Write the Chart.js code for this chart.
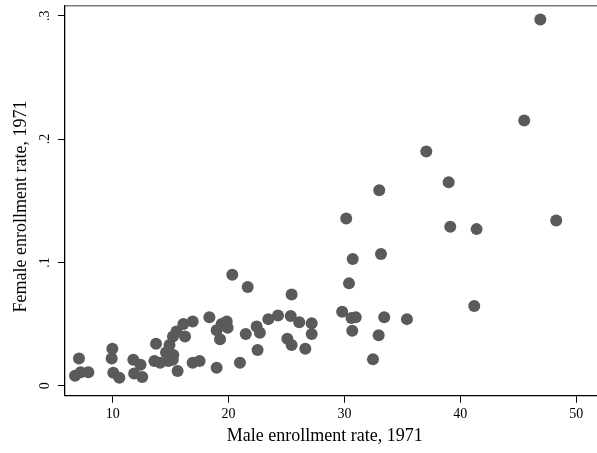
<!DOCTYPE html>
<html>
<head>
<meta charset="utf-8">
<script src="https://cdn.jsdelivr.net/npm/chart.js@4.4.1/dist/chart.umd.min.js"></script>
<style>
  html, body { margin: 0; padding: 0; background: #fff; }
  #wrap { width: 597px; height: 453px; }
</style>
</head>
<body>
<div id="wrap"><canvas id="chart" width="597" height="453"></canvas></div>
<script>
// Male and female enrollment rates, 1971 (one point per country)
const maleRate = [
  6.75, 7.09, 7.24, 7.9, 9.97, 9.91, 10.05, 10.57, 11.78, 12.4,
  11.85, 12.55, 13.74, 13.6, 14.1, 14.6, 14.9, 15.23, 14.8, 15.18,
  15.2, 15.5, 16.1, 16.9, 16.24, 15.6, 16.9, 17.5, 18.34, 18.97,
  19.4, 19.84, 19.92, 19.26, 18.97, 20.32, 21.65, 21.48, 20.98, 22.42,
  22.7, 22.5, 23.43, 24.26, 25.36, 25.44, 26.1, 25.07, 25.44, 26.62,
  27.17, 27.17, 29.8, 30.39, 30.71, 33.15, 30.6, 30.97, 30.67, 33.43,
  32.95, 32.46, 33.0, 30.15, 37.06, 38.99, 39.13, 41.4, 48.27, 45.51,
  46.9, 35.39, 41.2
];
const femaleRate = [
  0.008, 0.022, 0.011, 0.011, 0.030, 0.022, 0.0105, 0.0065, 0.021, 0.017,
  0.010, 0.007, 0.034, 0.020, 0.0187, 0.027, 0.033, 0.025, 0.020, 0.021,
  0.040, 0.044, 0.050, 0.052, 0.040, 0.012, 0.0187, 0.020, 0.0555, 0.045,
  0.050, 0.052, 0.047, 0.0376, 0.0146, 0.090, 0.080, 0.042, 0.0187, 0.048,
  0.043, 0.029, 0.054, 0.057, 0.0565, 0.074, 0.0514, 0.038, 0.033, 0.030,
  0.0506, 0.042, 0.060, 0.083, 0.1028, 0.1068, 0.055, 0.0555, 0.0446, 0.0555,
  0.041, 0.0214, 0.1585, 0.1357, 0.190, 0.165, 0.129, 0.127, 0.134, 0.215,
  0.297, 0.054, 0.0646
];
const xTicks = [10, 20, 30, 40, 50];
const yTicks = [0, 0.1, 0.2, 0.3];
const yTickLabels = ["0", ".1", ".2", ".3"];
const xTitle = "Male enrollment rate, 1971";
const yTitle = "Female enrollment rate, 1971";

const serif = "'Liberation Serif', 'Times New Roman', serif";

const points = maleRate.map((x, i) => ({ x: x, y: femaleRate[i] }));

// draws the rotated y labels, axis titles and the top frame line
const decor = {
  id: "decor",
  afterDraw(chart) {
    const ctx = chart.ctx;
    const area = chart.chartArea;
    const yScale = chart.scales.y;
    ctx.save();
    ctx.strokeStyle = "#7a7a7a";
    ctx.lineWidth = 1.5;
    ctx.beginPath();
    ctx.moveTo(area.left, area.top);
    ctx.lineTo(area.right, area.top);
    ctx.stroke();

    ctx.fillStyle = "#000";
    ctx.textAlign = "center";
    ctx.textBaseline = "middle";
    ctx.font = "14px " + serif;
    yTicks.forEach((v, i) => {
      const py = yScale.getPixelForValue(v);
      ctx.save();
      ctx.translate(45, py);
      ctx.rotate(-Math.PI / 2);
      ctx.fillText(yTickLabels[i], 0, 0);
      ctx.restore();
    });

    ctx.font = "18px " + serif;
    ctx.fillText(xTitle, 324.7, 436);
    ctx.save();
    ctx.translate(21, 206.5);
    ctx.rotate(-Math.PI / 2);
    ctx.fillText(yTitle, 0, 0);
    ctx.restore();
    ctx.restore();
  }
};

new Chart(document.getElementById("chart"), {
  type: "scatter",
  data: {
    datasets: [
      {
        data: points,
        backgroundColor: "#5a5a5a",
        borderWidth: 0,
        pointRadius: 6,
        pointHoverRadius: 6,
        clip: false
      }
    ]
  },
  options: {
    responsive: false,
    animation: false,
    events: [],
    layout: { autoPadding: false, padding: { top: 5.7, right: 0, bottom: 0, left: 0 } },
    plugins: {
      legend: { display: false },
      tooltip: { enabled: false }
    },
    scales: {
      x: {
        type: "linear",
        min: 5.884,
        max: 51.79,
        afterBuildTicks: (scale) => {
          scale.ticks = xTicks.map((v) => ({ value: v }));
        },
        afterFit: (scale) => {
          scale.height = 57.3;
          scale.paddingLeft = 0;
          scale.paddingRight = 0;
        },
        border: { color: "#000", width: 1.3 },
        grid: { drawOnChartArea: false, drawTicks: true, tickLength: 7, color: "#000", lineWidth: 1 },
        ticks: {
          color: "#000",
          padding: 3,
          maxRotation: 0,
          font: { family: serif, size: 14 }
        }
      },
      y: {
        type: "linear",
        min: -0.0081,
        max: 0.3082,
        afterBuildTicks: (scale) => {
          scale.ticks = yTicks.map((v) => ({ value: v }));
        },
        afterFit: (scale) => {
          scale.width = 65;
          scale.paddingTop = 0;
          scale.paddingBottom = 0;
        },
        border: { color: "#000", width: 1.3 },
        grid: { drawOnChartArea: false, drawTicks: true, tickLength: 7, color: "#000", lineWidth: 1 },
        ticks: { display: false }
      }
    }
  },
  plugins: [decor]
});
</script>
</body>
</html>
